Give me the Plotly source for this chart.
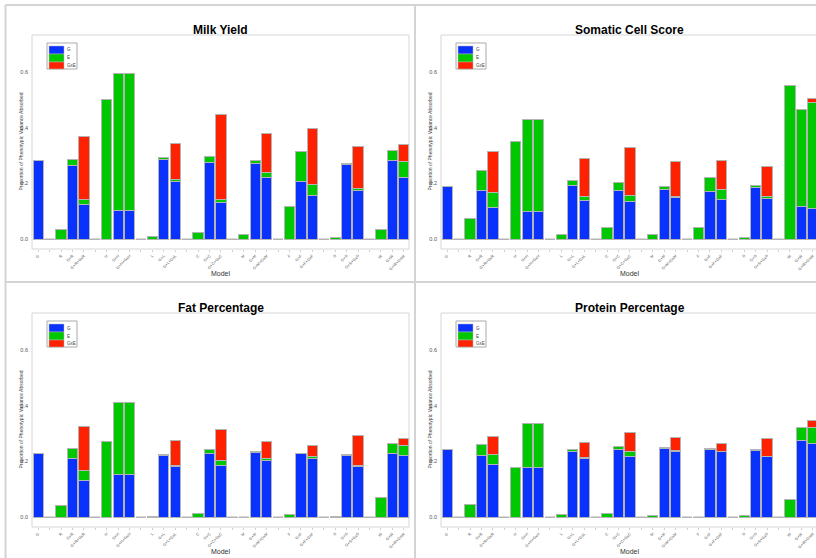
import plotly.graph_objects as go
from plotly.subplots import make_subplots

W, H = 816, 558

categories = ["G", "", "R", "G+R", "G+R+GxR", "", "H", "G+H", "G+H+GxH", "",
              "L", "G+L", "G+L+GxL", "", "C", "G+C", "G+C+GxC", "",
              "M", "G+M", "G+M+GxM", "", "F", "G+F", "G+F+GxF", "",
              "S", "G+S", "G+S+GxS", "", "W", "G+W", "G+W+GxW"]

titles = ["Milk Yield", "Somatic Cell Score", "Fat Percentage", "Protein Percentage"]
series_names = ["G", "E", "GxE"]
series_colors = ["#0a32ff", "#00c800", "#ff2200"]

milk_G = [0.281, 0, 0, 0.263, 0.123, 0, 0, 0.102, 0.102, 0, 0, 0.285, 0.208, 0, 0, 0.276, 0.133, 0,
          0, 0.270, 0.221, 0, 0, 0.207, 0.156, 0, 0, 0.267, 0.176, 0, 0, 0.282, 0.223]
milk_E = [0, 0, 0.036, 0.022, 0.021, 0, 0.501, 0.493, 0.492, 0, 0.010, 0.007, 0.007, 0, 0.024, 0.019, 0.010, 0,
          0.017, 0.012, 0.017, 0, 0.117, 0.107, 0.039, 0, 0.007, 0.004, 0.005, 0, 0.036, 0.036, 0.054]
milk_GxE = [0, 0, 0, 0, 0.224, 0, 0, 0, 0.001, 0, 0, 0, 0.128, 0, 0, 0, 0.305, 0,
            0, 0, 0.141, 0, 0, 0, 0.201, 0, 0, 0, 0.151, 0, 0, 0, 0.062]

scs_G = [0.190, 0, 0, 0.174, 0.112, 0, 0, 0.101, 0.101, 0, 0, 0.193, 0.140, 0, 0, 0.175, 0.134, 0,
         0, 0.180, 0.148, 0, 0, 0.172, 0.142, 0, 0, 0.187, 0.147, 0, 0, 0.118, 0.110]
scs_E = [0, 0, 0.073, 0.073, 0.057, 0, 0.351, 0.329, 0.329, 0, 0.016, 0.016, 0.013, 0, 0.041, 0.029, 0.022, 0,
         0.016, 0.010, 0.005, 0, 0.043, 0.049, 0.038, 0, 0.007, 0.006, 0.005, 0, 0.550, 0.347, 0.379]
scs_GxE = [0, 0, 0, 0, 0.146, 0, 0, 0, 0, 0, 0, 0, 0.135, 0, 0, 0, 0.172, 0,
           0, 0, 0.124, 0, 0, 0, 0.102, 0, 0, 0, 0.107, 0, 0, 0, 0.016]

fat_G = [0.229, 0, 0, 0.209, 0.130, 0, 0, 0.152, 0.152, 0, 0, 0.223, 0.183, 0, 0, 0.227, 0.184, 0,
         0, 0.233, 0.202, 0, 0, 0.227, 0.212, 0, 0, 0.223, 0.183, 0, 0, 0.229, 0.223]
fat_E = [0, 0, 0.042, 0.037, 0.039, 0, 0.272, 0.259, 0.260, 0, 0.004, 0.003, 0.001, 0, 0.014, 0.014, 0.018, 0,
         0, 0.002, 0.007, 0, 0.010, 0.003, 0.005, 0, 0.002, 0.003, 0.002, 0, 0.069, 0.037, 0.034]
fat_GxE = [0, 0, 0, 0, 0.157, 0, 0, 0, 0, 0, 0, 0, 0.092, 0, 0, 0, 0.114, 0,
           0, 0, 0.063, 0, 0, 0, 0.040, 0, 0, 0, 0.109, 0, 0, 0, 0.027]

prot_G = [0.244, 0, 0, 0.221, 0.189, 0, 0, 0.178, 0.178, 0, 0, 0.237, 0.209, 0, 0, 0.241, 0.217, 0,
          0, 0.246, 0.235, 0, 0, 0.243, 0.234, 0, 0, 0.240, 0.216, 0, 0, 0.276, 0.263]
prot_E = [0, 0, 0.045, 0.038, 0.036, 0, 0.178, 0.158, 0.158, 0, 0.009, 0.006, 0.006, 0, 0.014, 0.013, 0.017, 0,
          0.008, 0.004, 0.005, 0, 0, 0.004, 0.001, 0, 0.005, 0.002, 0.002, 0, 0.062, 0.047, 0.057]
prot_GxE = [0, 0, 0, 0, 0.063, 0, 0, 0, 0, 0, 0, 0, 0.052, 0, 0, 0, 0.070, 0,
            0, 0, 0.045, 0, 0, 0, 0.031, 0, 0, 0, 0.064, 0, 0, 0, 0.028]

y_ticks = [0.0, 0.2, 0.4, 0.6]
y_tick_text = ["0.0", "0.2", "0.4", "0.6"]

panels = [
    (milk_G, milk_E, milk_GxE),
    (scs_G, scs_E, scs_GxE),
    (fat_G, fat_E, fat_GxE),
    (prot_G, prot_E, prot_GxE),
]

FONT = "Liberation Sans, Arial, sans-serif"


def px(x):
    return x / W


def py(y):
    return 1 - y / H


fig = make_subplots(rows=2, cols=2, horizontal_spacing=0.02, vertical_spacing=0.02)

xpos = list(range(len(categories)))

PW = 377
geo = [(32, 35, 249), (441, 35, 249), (32, 313, 527), (441, 313, 527)]
pitch = PW / len(categories)

shapes = []
annotations = []

for i, (vals, (l, t, b)) in enumerate(zip(panels, geo)):
    r = l + PW
    rv = min(r, W)
    row, col = i // 2 + 1, i % 2 + 1
    for name, color, v in zip(series_names, series_colors, vals):
        fig.add_trace(go.Bar(x=xpos, y=v, name=name,
                             marker=dict(color=color, line=dict(color="#b4b4b4", width=1)),
                             showlegend=False), row=row, col=col)
    totals = [a + bb + c for a, bb, c in zip(*vals)]
    zx = [x for x, tv in zip(xpos, totals) if tv == 0]
    fig.add_trace(go.Scatter(x=zx, y=[0] * len(zx), mode="markers", showlegend=False, hoverinfo="skip",
                             marker=dict(symbol="line-ew", size=7.2, line=dict(color="#b4b4b4", width=1.5))),
                  row=row, col=col)
    xa = "xaxis" if i == 0 else f"xaxis{i + 1}"
    ya = "yaxis" if i == 0 else f"yaxis{i + 1}"
    x0r = -0.54
    x1r = x0r + (rv - l) / pitch
    fig.layout[xa].update(domain=[px(l), px(rv)], range=[x0r, x1r], tickmode="array", tickvals=xpos,
                          ticktext=categories, tickangle=-45, tickfont=dict(size=4, color="#555", family=FONT),
                          ticks="outside", ticklen=2, tickcolor="#d0d0d0", showline=False, showgrid=False,
                          zeroline=False)
    fig.layout[ya].update(domain=[py(b), py(t)], range=[-0.035, 0.732], tickmode="array", tickvals=y_ticks,
                          ticktext=y_tick_text, tickfont=dict(size=5.5, color="#555", family=FONT),
                          ticks="", showline=False, showgrid=False, zeroline=False, ticklabelstandoff=3)
    shapes.append(dict(type="rect", xref="paper", yref="paper", x0=px(l), x1=px(r), y0=py(b), y1=py(t),
                       line=dict(color="#d6d6d6", width=1), layer="below"))
    cx = l + PW / 2
    annotations.append(dict(text="<b>" + titles[i] + "</b>", x=px(cx), y=py(t - 5), xref="paper", yref="paper",
                            showarrow=False, xanchor="center", yanchor="middle",
                            font=dict(size=12, family=FONT, color="#000")))
    annotations.append(dict(text="Model", x=px(cx), y=py(b + 24), xref="paper", yref="paper",
                            showarrow=False, xanchor="center", yanchor="middle",
                            font=dict(size=7, family=FONT, color="#333")))
    annotations.append(dict(text="Proportion of Phenotypic Variance Absorbed", x=px(l - 11.5), y=py((t + b) / 2),
                            xref="paper", yref="paper", showarrow=False, xanchor="center", yanchor="middle",
                            textangle=-90, font=dict(size=5, family=FONT, color="#444")))
    lx, ly = l + 15, t + 8
    shapes.append(dict(type="rect", xref="paper", yref="paper", x0=px(lx), x1=px(lx + 30), y0=py(ly + 26),
                       y1=py(ly), line=dict(color="#aaaaaa", width=1), fillcolor="white"))
    rows_y = [(ly + 3, ly + 11), (ly + 11, ly + 19), (ly + 19, ly + 26)]
    for (ya0, ya1), name, color in zip(rows_y, series_names, series_colors):
        shapes.append(dict(type="rect", xref="paper", yref="paper", x0=px(lx + 2), x1=px(lx + 17),
                           y0=py(ya1), y1=py(ya0), line=dict(color="#b4b4b4", width=0.5), fillcolor=color))
        annotations.append(dict(text=name, x=px(lx + 18), y=py((ya0 + ya1) / 2), xref="paper", yref="paper",
                                showarrow=False, xanchor="left", yanchor="middle",
                                font=dict(size=4.5, family=FONT, color="#444")))

# panel borders
for seg in [(5.5, 5, 5.5, H), (415, 5, 415, H), (5.5, 5, W, 5), (5.5, 282, W, 282)]:
    shapes.append(dict(type="line", xref="paper", yref="paper", x0=px(seg[0]), y0=py(seg[1]),
                       x1=px(seg[2]), y1=py(seg[3]), line=dict(color="#d4d4d4", width=2)))

fig.update_layout(width=W, height=H, margin=dict(l=0, r=0, t=0, b=0), barmode="stack", bargap=0.1,
                  plot_bgcolor="white", paper_bgcolor="white", shapes=shapes, annotations=annotations,
                  showlegend=False, hovermode=False, font=dict(family=FONT))

fig.write_html("out.html", config={"displayModeBar": False, "staticPlot": True},
               post_script="document.body.style.margin='0px';")
